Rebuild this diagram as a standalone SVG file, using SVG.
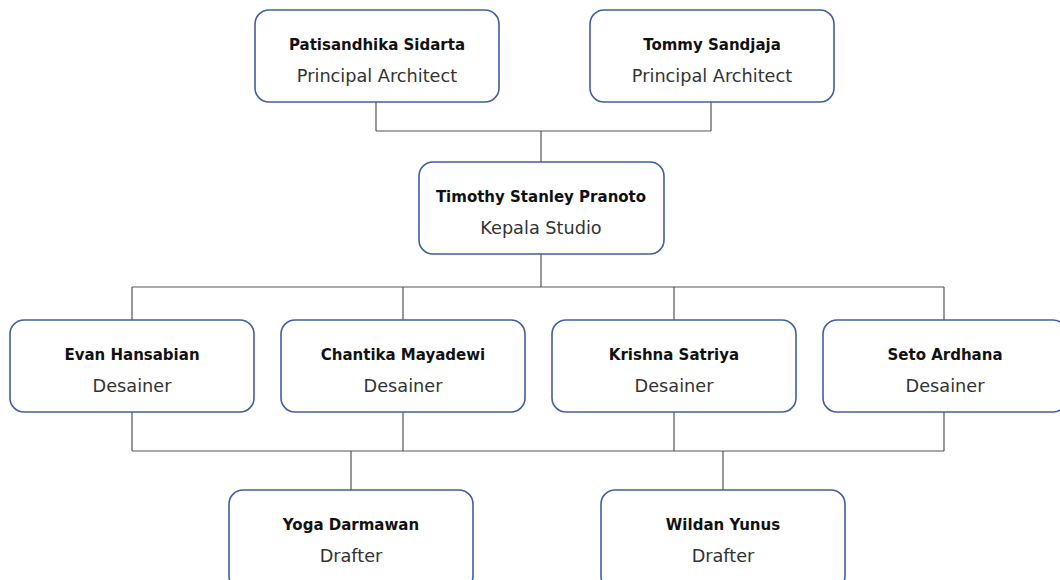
<svg xmlns="http://www.w3.org/2000/svg" width="1060" height="580" viewBox="0 0 1060 580">
<style>
.box{fill:#ffffff;stroke:#3f5fa4;stroke-width:1.6}
.name{font-family:"DejaVu Sans",sans-serif;font-weight:bold;font-size:15px;fill:#111111;text-anchor:middle}
.role{font-family:"DejaVu Sans",sans-serif;font-size:17.7px;fill:#333333;text-anchor:middle}
.conn{fill:none;stroke:#555555;stroke-width:1.2}
</style>
<rect width="1060" height="580" fill="#ffffff"/>
<g id="connectors" class="conn">
<path d="M376 102V131M711 102V131M376 131H711M541 131V162"/>
<path d="M541 254V287M132 287H944M132 287V320M403 287V320M674 287V320M944 287V320"/>
<path d="M132 412V451M403 412V451M674 412V451M944 412V451M132 451H944M351 451V490M723 451V490"/>
</g>
<g id="n1"><rect class="box" x="255" y="10" width="244" height="92" rx="14"/><text class="name" x="377" y="50">Patisandhika Sidarta</text><text class="role" x="377" y="82">Principal Architect</text></g>
<g id="n2"><rect class="box" x="590" y="10" width="244" height="92" rx="14"/><text class="name" x="712" y="50">Tommy Sandjaja</text><text class="role" x="712" y="82">Principal Architect</text></g>
<g id="n3"><rect class="box" x="419" y="162" width="245" height="92" rx="14"/><text class="name" x="541" y="202">Timothy Stanley Pranoto</text><text class="role" x="541" y="234">Kepala Studio</text></g>
<g id="n4"><rect class="box" x="10" y="320" width="244" height="92" rx="14"/><text class="name" x="132" y="360">Evan Hansabian</text><text class="role" x="132" y="392">Desainer</text></g>
<g id="n5"><rect class="box" x="281" y="320" width="244" height="92" rx="14"/><text class="name" x="403" y="360">Chantika Mayadewi</text><text class="role" x="403" y="392">Desainer</text></g>
<g id="n6"><rect class="box" x="552" y="320" width="244" height="92" rx="14"/><text class="name" x="674" y="360">Krishna Satriya</text><text class="role" x="674" y="392">Desainer</text></g>
<g id="n7"><rect class="box" x="823" y="320" width="244" height="92" rx="14"/><text class="name" x="945" y="360">Seto Ardhana</text><text class="role" x="945" y="392">Desainer</text></g>
<g id="n8"><rect class="box" x="229" y="490" width="244" height="100" rx="14"/><text class="name" x="351" y="530">Yoga Darmawan</text><text class="role" x="351" y="562">Drafter</text></g>
<g id="n9"><rect class="box" x="601" y="490" width="244" height="100" rx="14"/><text class="name" x="723" y="530">Wildan Yunus</text><text class="role" x="723" y="562">Drafter</text></g>
</svg>
